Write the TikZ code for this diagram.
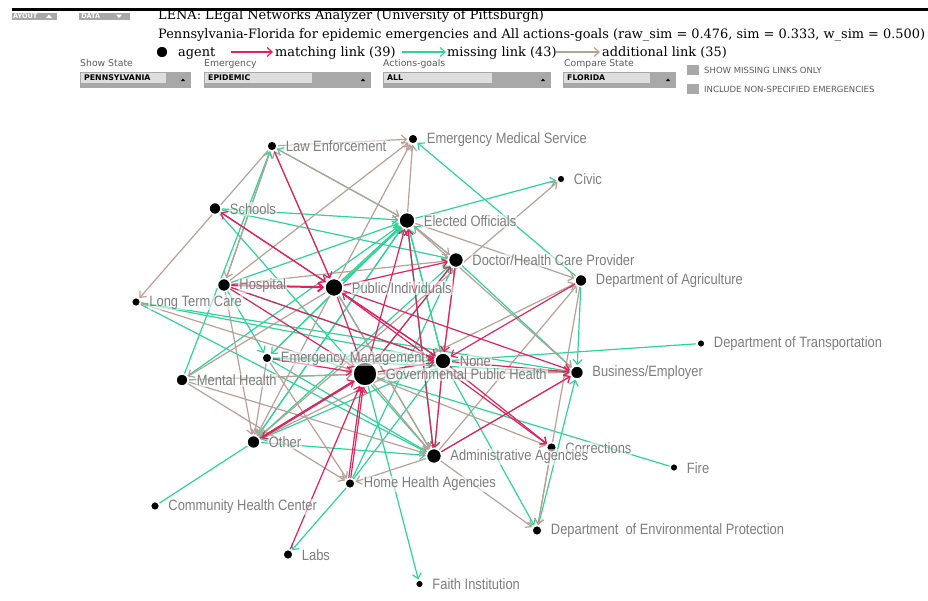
\documentclass[tikz,border=0pt]{standalone}
\usepackage{fontspec}
\setmainfont{DejaVu Serif}
\newfontfamily\labfont[FakeStretch=0.86]{Liberation Sans}
\newfontfamily\uifont{DejaVu Sans}
\usetikzlibrary{arrows.meta}
\pgfdeclarelayer{bg}
\pgfsetlayers{bg,main}
\definecolor{match}{RGB}{228,32,95}
\definecolor{miss}{RGB}{45,212,152}
\definecolor{addl}{RGB}{185,160,150}
\definecolor{labgray}{RGB}{125,125,125}
\definecolor{ddgray}{RGB}{168,168,168}
\definecolor{ddlight}{RGB}{222,222,222}
\definecolor{ctlgray}{RGB}{90,90,90}
\tikzset{
  agent/.style={circle, fill=black, draw=white, line width=1.5pt, inner sep=0pt, minimum size=#1},
  lab/.style={anchor=west, font=\labfont\fontsize{15}{15}\selectfont, text=labgray, fill=white, fill opacity=0.55, text opacity=1, inner sep=1pt},
  lk/.style={line width=1.2pt, -{Straight Barb[length=5pt,width=9pt]}},
  mt/.style={lk, draw=match},
  ms/.style={lk, draw=miss},
  ad/.style={lk, draw=addl},
  msn/.style={line width=1.2pt, draw=miss},
  hdr/.style={font=\fontsize{12.9}{13}\selectfont, inner sep=0pt, anchor=base west},
  ctl/.style={font=\uifont\fontsize{9.3}{9.5}\selectfont, text=ctlgray, inner sep=0pt, anchor=base west},
  ddtext/.style={font=\uifont\bfseries\fontsize{7.8}{7.8}\selectfont, inner sep=0pt, anchor=west},
  cbtext/.style={font=\uifont\fontsize{8.5}{8.5}\selectfont, text=ctlgray, inner sep=0pt, anchor=west},
  btn/.style={fill=ddgray, text=white, font=\uifont\bfseries\fontsize{6.5}{6.5}\selectfont, inner sep=0pt, anchor=west},
}
\begin{document}
\begin{tikzpicture}[x=1pt,y=-1pt]
\useasboundingbox (0,0) rectangle (928,600);
% ---------- header ----------
\fill[black] (12,8.4) rectangle (928,11);
\node[btn, minimum width=45pt, minimum height=7pt, text width=43pt, align=left] (blay) at (12,16) {AYOUT};
\fill[white] (46,18) -- (49,14.5) -- (52,18) -- cycle;
\node[btn, minimum width=51pt, minimum height=7pt, text width=49pt, align=left] (bdat) at (79,16) {\,DATA};
\fill[white] (116,14.5) -- (119,18) -- (122,14.5) -- cycle;
\node[hdr] (t1) at (158,19) {LENA: LEgal Networks Analyzer (University of Pittsburgh)};
\node[hdr] (t2) at (158,38) {Pennsylvania-Florida for epidemic emergencies and All actions-goals (raw\_sim = 0.476, sim = 0.333, w\_sim = 0.500)};
\node[agent=12pt] (lgdot) at (162,52) {};
\node[hdr] (lga) at (178,56) {agent};
\coordinate (pa1) at (231,52); \coordinate (pa2) at (273,52);
\draw[mt] (pa1) -- (pa2);
\node[hdr] (lgm) at (275,56) {matching link (39)};
\coordinate (ga1) at (402,52); \coordinate (ga2) at (446,52);
\draw[ms] (ga1) -- (ga2);
\node[hdr] (lgs) at (447,56) {missing link (43)};
\coordinate (ta1) at (556,52); \coordinate (ta2) at (600,52);
\draw[ad] (ta1) -- (ta2);
\node[hdr] (lgd) at (602,56) {additional link (35)};
% controls
\node[ctl] (c1) at (80,66) {Show\ State};
\node[ctl] (c2) at (204,66) {Emergency};
\node[ctl] (c3) at (383,66) {Actions-goals};
\node[ctl] (c4) at (564,66) {Compare\ State};
\fill[ddgray] (80,71.5) rectangle (191,87.5);
\fill[ddlight] (81,72.5) rectangle (166,83);
\node[ddtext] (d1) at (84,77.5) {PENNSYLVANIA};
\fill[black] (181,81) -- (183,78.5) -- (185,81) -- cycle;
\fill[ddgray] (204,71.5) rectangle (371,87.5);
\fill[ddlight] (205,72.5) rectangle (312,83);
\node[ddtext] (d2) at (208,77.5) {EPIDEMIC};
\fill[black] (361,81) -- (363,78.5) -- (365,81) -- cycle;
\fill[ddgray] (383,71.5) rectangle (551,87.5);
\fill[ddlight] (384,72.5) rectangle (492,83);
\node[ddtext] (d3) at (387,77.5) {ALL};
\fill[black] (541,81) -- (543,78.5) -- (545,81) -- cycle;
\fill[ddgray] (563,71.5) rectangle (676,87.5);
\fill[ddlight] (564,72.5) rectangle (650,83);
\node[ddtext] (d4) at (567,77.5) {FLORIDA};
\fill[black] (666,81) -- (668,78.5) -- (670,81) -- cycle;
\fill[ddgray] (687,65) rectangle (699,75);
\node[cbtext] (cb1) at (704,70) {SHOW MISSING LINKS ONLY};
\fill[ddgray] (687,84) rectangle (699,94);
\node[cbtext] (cb2) at (704,89) {INCLUDE NON-SPECIFIED EMERGENCIES};
% ---------- agents ----------
\node[agent=10pt] (LE) at (272,146) {};
\node[agent=10pt] (EMS) at (413,139) {};
\node[agent=8pt] (CIV) at (561,179) {};
\node[agent=12pt] (SCH) at (215,208.5) {};
\node[agent=16pt] (EO) at (407,220.5) {};
\node[agent=15pt] (DOC) at (456,260) {};
\node[agent=12pt] (AG) at (581,280.5) {};
\node[agent=13pt] (HOS) at (224,285) {};
\node[agent=18pt] (PUB) at (334,287.5) {};
\node[agent=9pt] (LTC) at (136,302) {};
\node[agent=10pt] (EM) at (267,358) {};
\node[agent=16pt] (NON) at (443,361) {};
\node[agent=24pt] (GPH) at (365,374) {};
\node[agent=8pt] (DOT) at (701,343.5) {};
\node[agent=13pt] (BUS) at (577,372.5) {};
\node[agent=12pt] (MH) at (182,380) {};
\node[agent=13pt] (OTH) at (253.5,442) {};
\node[agent=10pt] (COR) at (551.5,447.5) {};
\node[agent=15pt] (ADM) at (434,456) {};
\node[agent=8pt] (FIRE) at (674,467.5) {};
\node[agent=10pt] (HHA) at (350,483.5) {};
\node[agent=9pt] (CHC) at (155,506) {};
\node[agent=10pt] (DEP) at (537,530.5) {};
\node[agent=10pt] (LABS) at (288,554.5) {};
\node[agent=8pt] (FAITH) at (419.5,584) {};
% ---------- links ----------
\begin{pgfonlayer}{bg}
\foreach \a/\b in {HOS/LE, MH/LE, EO/LE, AG/EMS, EO/CIV, SCH/EO, SCH/DOC, SCH/ADM, HOS/EO, PUB/EO, EM/EO, MH/EO, OTH/EO, DOC/EO, HOS/NON, LTC/NON, EM/NON, EO/NON, EO/ADM, EM/ADM, OTH/ADM, HHA/LABS, GPH/FAITH, GPH/OTH, NON/OTH, EO/EM, DOC/BUS, AG/BUS, DEP/BUS, NON/DEP, EO/OTH, LTC/BUS, GPH/DOC, ADM/EO, HHA/NON, OTH/DOC, PUB/ADM, EM/BUS, HOS/EM, LTC/ADM, MH/GPH, NON/EO, HHA/DOC}
  \draw[ms] (\a) -- (\b);
\draw[ms, transform canvas={xshift=2pt}] (PUB) -- (EO);
\foreach \a/\b in {CHC/OTH, NON/DOT, GPH/FIRE}
  \draw[msn] (\a) -- (\b);
\foreach \a/\b in {LE/LTC, LE/HOS, LE/EMS, HOS/EMS, PUB/EMS, EO/EMS, LE/EO, PUB/LE, EO/AG, OTH/CIV, EO/DOC, EO/BUS, ADM/AG, AG/DEP, ADM/DEP, GPH/BUS, GPH/COR, COR/DEP, HOS/DOC, PUB/OTH, HOS/OTH, PUB/MH, MH/GPH, MH/ADM, LTC/GPH, EM/HHA, ADM/HHA, DOC/NON, NON/ADM, ADM/BUS, PUB/ADM, OTH/AG, GPH/ADM, MH/HHA, EM/OTH}
  \draw[ad] (\a) -- (\b);
\foreach \a/\b in {SCH/PUB, PUB/SCH, LE/PUB, PUB/DOC, GPH/DOC, GPH/EO, PUB/NON, DOC/NON, AG/NON, PUB/BUS, PUB/COR, NON/COR, ADM/BUS, NON/ADM, OTH/GPH, HHA/GPH, LABS/GPH, HOS/NON, HOS/GPH, NON/PUB, ADM/EO, GPH/NON, EM/GPH, PUB/GPH, NON/BUS}
  \draw[mt] (\a) -- (\b);
\draw[mt, line width=2pt] (HOS) -- (PUB);
\draw[mt, transform canvas={xshift=2pt}] (GPH) -- (OTH);
\draw[mt, transform canvas={xshift=-2pt}] (HHA) -- (GPH);
\end{pgfonlayer}
% ---------- labels ----------
\node[lab] (LEt) at ([xshift=7pt,yshift=-0.5pt]LE.east) {Law Enforcement};
\node[lab] (EMSt) at ([xshift=7pt,yshift=-0.5pt]EMS.east) {Emergency Medical Service};
\node[lab] (CIVt) at ([xshift=7pt,yshift=-0.5pt]CIV.east) {Civic};
\node[lab] (SCHt) at ([xshift=7pt,yshift=-0.5pt]SCH.east) {Schools};
\node[lab] (EOt) at ([xshift=7pt,yshift=-0.5pt]EO.east) {Elected Officials};
\node[lab] (DOCt) at ([xshift=7pt,yshift=-0.5pt]DOC.east) {Doctor/Health Care Provider};
\node[lab] (AGt) at ([xshift=7pt,yshift=-0.5pt]AG.east) {Department of Agriculture};
\node[lab] (HOSt) at ([xshift=7pt,yshift=-0.5pt]HOS.east) {Hospital};
\node[lab] (PUBt) at ([xshift=7pt,yshift=-0.5pt]PUB.east) {Public/Individuals};
\node[lab] (LTCt) at ([xshift=7pt,yshift=-0.5pt]LTC.east) {Long Term Care};
\node[lab] (EMt) at ([xshift=7pt,yshift=-0.5pt]EM.east) {Emergency Management};
\node[lab] (NONt) at ([xshift=7pt,yshift=-0.5pt]NON.east) {None};
\node[lab] (GPHt) at ([xshift=7pt,yshift=-0.5pt]GPH.east) {Governmental Public Health};
\node[lab] (DOTt) at ([xshift=7pt,yshift=-0.5pt]DOT.east) {Department of Transportation};
\node[lab] (BUSt) at ([xshift=7pt,yshift=-0.5pt]BUS.east) {Business/Employer};
\node[lab] (MHt) at ([xshift=7pt,yshift=-0.5pt]MH.east) {Mental Health};
\node[lab] (OTHt) at ([xshift=7pt,yshift=-0.5pt]OTH.east) {Other};
\node[lab] (CORt) at ([xshift=7pt,yshift=-0.5pt]COR.east) {Corrections};
\node[lab] (ADMt) at ([xshift=7pt,yshift=-0.5pt]ADM.east) {Administrative Agencies};
\node[lab] (FIREt) at ([xshift=7pt,yshift=-0.5pt]FIRE.east) {Fire};
\node[lab] (HHAt) at ([xshift=7pt,yshift=-0.5pt]HHA.east) {Home Health Agencies};
\node[lab] (CHCt) at ([xshift=7pt,yshift=-0.5pt]CHC.east) {Community Health Center};
\node[lab] (DEPt) at ([xshift=7pt,yshift=-0.5pt]DEP.east) {Department\ \ of Environmental Protection};
\node[lab] (LABSt) at ([xshift=7pt,yshift=-0.5pt]LABS.east) {Labs};
\node[lab] (FAITHt) at ([xshift=7pt,yshift=-0.5pt]FAITH.east) {Faith Institution};
\end{tikzpicture}
\end{document}
